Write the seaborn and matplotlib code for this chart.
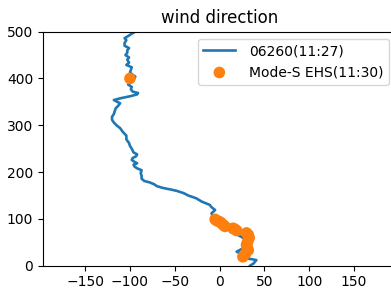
import matplotlib
matplotlib.use("Agg")
import matplotlib.pyplot as plt
import seaborn as sns
import pandas as pd

# Radiosonde 06260 (11:27): wind direction (deg, wrapped) vs height
sonde_height = [0, 5, 12, 16, 22, 30, 37, 45, 55, 62, 68, 72, 78, 85, 92, 100,
                107, 112, 119, 125, 130, 137, 144, 150, 155, 160, 163, 166, 170,
                174, 178, 181, 186, 192, 198, 204, 208, 212, 216, 219, 222, 226,
                230, 234, 238, 242, 250, 256, 262, 270, 278, 286, 294, 300, 306,
                312, 318, 324, 330, 336, 342, 347, 350, 354, 358, 362, 366, 369,
                372, 377, 382, 387, 392, 398, 404, 408, 413, 418, 424, 429, 434,
                440, 445, 450, 455, 460, 465, 470, 476, 482, 486, 492, 498, 502]
sonde_dir = [34, 38, 41, 30, 27, 19, 26, 30, 30, 24, 18, 12, 14, 8, 2, -4,
             -8, -9, -5, -9, -11, -20, -26, -35, -40, -48, -55, -63, -70,
             -73, -78, -84, -87, -87, -88, -87, -92, -95, -96, -92, -95, -98,
             -97, -93, -92, -96, -98, -100, -101, -104, -104, -108, -111, -115, -118,
             -120, -120, -118, -117, -116, -113, -111, -114, -118, -110, -100, -92, -91,
             -97, -99, -98, -102, -99, -96, -94, -97, -100, -99, -98, -104, -101,
             -103, -101, -105, -103, -103, -101, -106, -106, -104, -106, -101, -96, -92]

# Mode-S EHS (11:30)
ehs_height = [99, 96, 94, 91, 87, 84, 80, 78, 75, 70, 66, 60, 55, 50, 44, 38, 33, 26, 19, 400]
ehs_dir = [-5, -3, 0, 2, 4, 6, 15, 17, 19, 30, 32, 33, 32, 31, 30, 31, 32, 29, 26, -100]

label_sonde = "06260(11:27)"
label_ehs = "Mode-S EHS(11:30)"
title = "wind direction"

sonde = pd.DataFrame({"dir": sonde_dir, "height": sonde_height})
ehs = pd.DataFrame({"dir": ehs_dir, "height": ehs_height})

plt.rcParams["font.family"] = ["DejaVu Sans"]
fig = plt.figure(figsize=(3.91, 2.98), dpi=100)
ax = fig.add_axes([43 / 391, 32.3 / 298, 353.2 / 391, 234 / 298])

sns.lineplot(data=sonde, x="dir", y="height", sort=False, estimator=None,
             color="#1f77b4", linewidth=1.9, ax=ax, label=label_sonde)
sns.scatterplot(data=ehs, x="dir", y="height", color="#ff7f0e", s=70,
                edgecolor="none", ax=ax, label=label_ehs, zorder=3)

ax.set_xlim(-197, 197)
ax.set_ylim(0, 500)
ax.set_xticks([-150, -100, -50, 0, 50, 100, 150])
ax.set_yticks([0, 100, 200, 300, 400, 500])
ax.set_xlabel("")
ax.set_ylabel("")
ax.set_title(title, fontsize=12)
ax.tick_params(labelsize=10)
ax.legend(loc="upper right", fontsize=10, handlelength=2.3, handletextpad=1.0)

fig.savefig("out.png", dpi=100)
